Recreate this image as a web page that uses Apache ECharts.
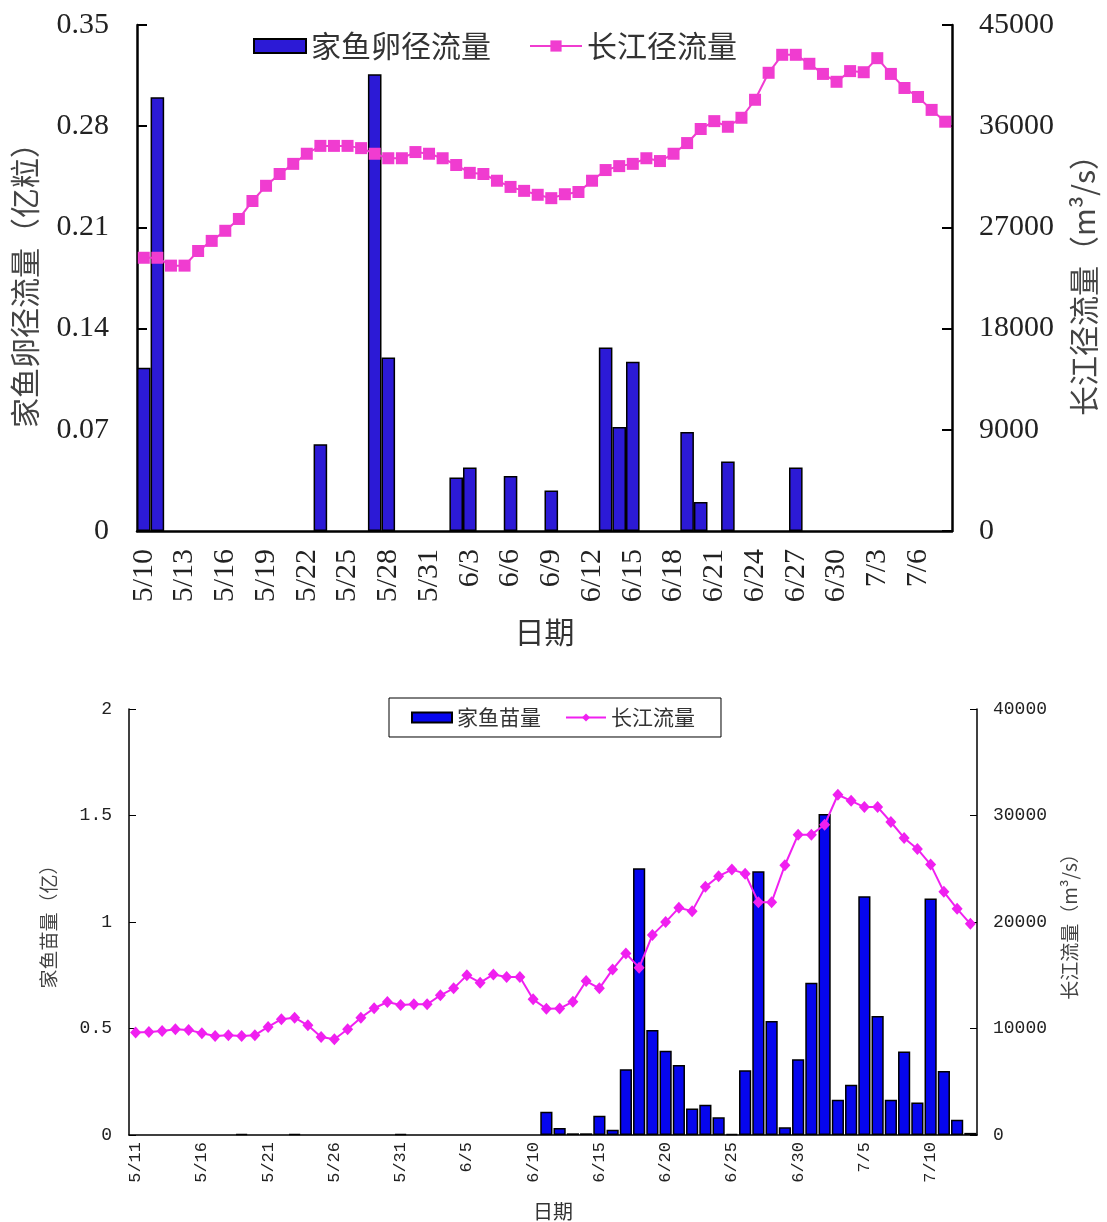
<!DOCTYPE html>
<html>
<head>
<meta charset="utf-8">
<script src="https://cdn.jsdelivr.net/npm/echarts@6/dist/echarts.min.js"></script>
<style>
  html, body { margin: 0; padding: 0; background: #fff; }
  #chart { width: 1107px; height: 1222px; }
</style>
</head>
<body>
<div id="chart"></div>
<script>
// 上图：家鱼卵径流量 / 长江径流量（5/10 - 7/8）
var eggDates = ['5/10','5/11','5/12','5/13','5/14','5/15','5/16','5/17','5/18','5/19',
  '5/20','5/21','5/22','5/23','5/24','5/25','5/26','5/27','5/28','5/29',
  '5/30','5/31','6/1','6/2','6/3','6/4','6/5','6/6','6/7','6/8',
  '6/9','6/10','6/11','6/12','6/13','6/14','6/15','6/16','6/17','6/18',
  '6/19','6/20','6/21','6/22','6/23','6/24','6/25','6/26','6/27','6/28',
  '6/29','6/30','7/1','7/2','7/3','7/4','7/5','7/6','7/7','7/8'];
var eggAmount = [0.113, 0.300, null, null, null, null, null, null, null, null,
  null, null, null, 0.060, null, null, null, 0.316, 0.120, null,
  null, null, null, 0.037, 0.044, null, null, 0.038, null, null,
  0.028, null, null, null, 0.127, 0.072, 0.117, null, null, null,
  0.0685, 0.020, null, 0.048, null, null, null, null, 0.044, null,
  null, null, null, null, null, null, null, null, null, null];
var eggFlow = [24300, 24300, 23600, 23600, 24900, 25800, 26700, 27750, 29350, 30700,
  31750, 32650, 33550, 34250, 34250, 34250, 34050, 33550, 33150, 33150,
  33700, 33550, 33150, 32550, 31850, 31750, 31150, 30600, 30250, 29900,
  29600, 29950, 30150, 31150, 32100, 32450, 32650, 33150, 32900, 33550,
  34500, 35750, 36450, 35950, 36750, 38350, 40750, 42350, 42350, 41550,
  40650, 39950, 40900, 40800, 42050, 40650, 39400, 38600, 37450, 36400];

// 下图：家鱼苗量 / 长江流量（5/11 - 7/13）
var fryDates = ['5/11','5/12','5/13','5/14','5/15','5/16','5/17','5/18','5/19','5/20',
  '5/21','5/22','5/23','5/24','5/25','5/26','5/27','5/28','5/29','5/30',
  '5/31','6/1','6/2','6/3','6/4','6/5','6/6','6/7','6/8','6/9',
  '6/10','6/11','6/12','6/13','6/14','6/15','6/16','6/17','6/18','6/19',
  '6/20','6/21','6/22','6/23','6/24','6/25','6/26','6/27','6/28','6/29',
  '6/30','7/1','7/2','7/3','7/4','7/5','7/6','7/7','7/8','7/9',
  '7/10','7/11','7/12','7/13'];
var fryAmount = [null, null, null, null, null, null, null, null, 0.005, null,
  null, null, 0.005, null, null, null, null, null, null, null,
  0.005, null, null, null, null, null, null, null, null, null,
  null, 0.109, 0.033, 0.008, 0.008, 0.090, 0.025, 0.309, 1.252, 0.493,
  0.395, 0.329, 0.125, 0.142, 0.083, 0.005, 0.304, 1.238, 0.535, 0.036,
  0.356, 0.715, 1.507, 0.165, 0.236, 1.121, 0.559, 0.165, 0.392, 0.153,
  1.110, 0.301, 0.072, 0.010];
var fryFlow = [9620, 9680, 9770, 9930, 9870, 9560, 9300, 9370, 9300, 9370,
  10150, 10870, 11020, 10300, 9210, 8990, 9930, 11020, 11900, 12490,
  12210, 12270, 12270, 13120, 13770, 14990, 14300, 15080, 14830, 14830,
  12740, 11850, 11870, 12520, 14460, 13770, 15550, 17050, 15710, 18770,
  19990, 21330, 21020, 23300, 24300, 24920, 24540, 21860, 21860, 25330,
  28200, 28200, 29130, 31950, 31380, 30790, 30790, 29390, 27890, 26860,
  25390, 22830, 21240, 19830];

var serif = 'Liberation Serif';
var mono = 'Liberation Mono';
var cjk = 'Noto Sans CJK SC';

function plain(v) {
  return String(v);
}

const myChart = echarts.init(document.getElementById('chart'));
var option = {
  animation: false,
  backgroundColor: '#fff',
  legend: [
    {
      left: 248,
      top: 26,
      itemWidth: 52,
      itemHeight: 14,
      itemGap: 38,
      textStyle: { fontFamily: cjk, fontSize: 30, color: '#333' },
      data: [{ name: '家鱼卵径流量', icon: 'rect' }, { name: '长江径流量' }]
    },
    {
      left: 389,
      top: 698,
      itemWidth: 40,
      itemHeight: 10,
      itemGap: 24,
      padding: [9, 26, 9, 22],
      borderColor: '#000',
      borderWidth: 1,
      textStyle: { fontFamily: cjk, fontSize: 21, color: '#333' },
      data: [{ name: '家鱼苗量', icon: 'rect' }, { name: '长江流量' }]
    }
  ],
  grid: [
    { left: 137, right: 152, top: 25, height: 506 },
    { left: 129, right: 130, top: 709, height: 427 }
  ],
  xAxis: [
    {
      type: 'category',
      gridIndex: 0,
      data: eggDates,
      name: '日期',
      nameLocation: 'middle',
      nameGap: 86,
      nameTextStyle: { fontFamily: cjk, fontSize: 30, color: '#333' },
      axisLine: { lineStyle: { color: '#000', width: 2.5 } },
      axisTick: { inside: true, interval: 2, length: 8, lineStyle: { color: '#000', width: 2 } },
      axisLabel: { interval: 2, rotate: 90, margin: 18, fontFamily: serif, fontSize: 30, color: '#222' },
      splitLine: { show: false }
    },
    {
      type: 'category',
      gridIndex: 1,
      data: fryDates,
      name: '日期',
      nameLocation: 'middle',
      nameGap: 66,
      nameTextStyle: { fontFamily: cjk, fontSize: 20, color: '#333' },
      axisLine: { lineStyle: { color: '#000', width: 1.5 } },
      axisTick: { inside: true, interval: 4, length: 7, lineStyle: { color: '#000', width: 1 } },
      axisLabel: { interval: 4, rotate: 90, margin: 7, fontFamily: mono, fontSize: 17, color: '#222' },
      splitLine: { show: false }
    }
  ],
  yAxis: [
    {
      type: 'value',
      gridIndex: 0,
      min: 0,
      max: 0.35,
      interval: 0.07,
      name: '家鱼卵径流量（亿粒）',
      nameLocation: 'middle',
      nameRotate: 90,
      nameGap: 97,
      nameTextStyle: { fontFamily: cjk, fontSize: 30, color: '#444' },
      axisLine: { show: true, lineStyle: { color: '#000', width: 2.5 } },
      axisTick: { show: true, inside: true, length: 10, lineStyle: { color: '#000', width: 2 } },
      axisLabel: {
        margin: 28, fontFamily: serif, fontSize: 30, color: '#222',
        formatter: function (v) { return v === 0 ? '0' : v.toFixed(2); }
      },
      splitLine: { show: false }
    },
    {
      type: 'value',
      gridIndex: 0,
      position: 'right',
      min: 0,
      max: 45000,
      interval: 9000,
      name: '长江径流量（m³/s）',
      nameLocation: 'middle',
      nameRotate: 90,
      nameGap: 117,
      nameTextStyle: { fontFamily: cjk, fontSize: 30, color: '#444' },
      axisLine: { show: true, lineStyle: { color: '#000', width: 2.5 } },
      axisTick: { show: true, inside: true, length: 10, lineStyle: { color: '#000', width: 2 } },
      axisLabel: { margin: 27, fontFamily: serif, fontSize: 30, color: '#222', formatter: plain },
      splitLine: { show: false }
    },
    {
      type: 'value',
      gridIndex: 1,
      min: 0,
      max: 2,
      interval: 0.5,
      name: '家鱼苗量（亿）',
      nameLocation: 'middle',
      nameRotate: 90,
      nameGap: 71,
      nameTextStyle: { fontFamily: cjk, fontSize: 19, color: '#444' },
      axisLine: { show: true, lineStyle: { color: '#000', width: 1.5 } },
      axisTick: { show: true, inside: true, length: 7, lineStyle: { color: '#000', width: 1 } },
      axisLabel: { margin: 17, fontFamily: mono, fontSize: 18, color: '#222', formatter: plain },
      splitLine: { show: false }
    },
    {
      type: 'value',
      gridIndex: 1,
      position: 'right',
      min: 0,
      max: 40000,
      interval: 10000,
      name: '长江流量（m³/s）',
      nameLocation: 'middle',
      nameRotate: 90,
      nameGap: 83,
      nameTextStyle: { fontFamily: cjk, fontSize: 19, color: '#444' },
      axisLine: { show: true, lineStyle: { color: '#000', width: 1.5 } },
      axisTick: { show: true, inside: true, length: 7, lineStyle: { color: '#000', width: 1 } },
      axisLabel: { margin: 16, fontFamily: mono, fontSize: 18, color: '#222', formatter: plain },
      splitLine: { show: false }
    }
  ],
  series: [
    {
      name: '家鱼卵径流量',
      type: 'bar',
      xAxisIndex: 0,
      yAxisIndex: 0,
      barCategoryGap: '0%',
      itemStyle: { color: '#2c1ad6', borderColor: '#000', borderWidth: 1.5 },
      data: eggAmount
    },
    {
      name: '长江径流量',
      type: 'line',
      xAxisIndex: 0,
      yAxisIndex: 1,
      symbol: 'rect',
      symbolSize: 12,
      showAllSymbol: true,
      lineStyle: { color: '#f03cd0', width: 2 },
      itemStyle: { color: '#f03cd0' },
      data: eggFlow
    },
    {
      name: '家鱼苗量',
      type: 'bar',
      xAxisIndex: 1,
      yAxisIndex: 2,
      barCategoryGap: '8%',
      itemStyle: { color: '#0606ee', borderColor: '#000', borderWidth: 1.5 },
      data: fryAmount
    },
    {
      name: '长江流量',
      type: 'line',
      xAxisIndex: 1,
      yAxisIndex: 3,
      symbol: 'diamond',
      symbolSize: [11, 12],
      showAllSymbol: true,
      lineStyle: { color: '#f020f0', width: 2 },
      itemStyle: { color: '#f020f0' },
      data: fryFlow
    }
  ]
};
myChart.setOption(option);
window.addEventListener('resize', function () {
  myChart.resize();
});
</script>
</body>
</html>
